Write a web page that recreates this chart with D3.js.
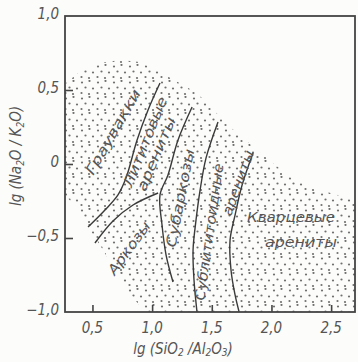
<!DOCTYPE html>
<html>
<head>
<meta charset="utf-8">
<script src="https://cdn.jsdelivr.net/npm/d3@7"></script>
<style>
  html, body { margin: 0; padding: 0; background: #fcfcfa; }
  svg { display: block; }
  .lbl { font-family: "DejaVu Sans Condensed", "DejaVu Sans", sans-serif; font-style: italic; fill: #555; }
</style>
</head>
<body>
<div id="chart"></div>
<script>
// axis ticks
var xTicks = [0.5, 1.0, 1.5, 2.0, 2.5];
var xTickLabels = ['0,5', '1,0', '1,5', '2,0', '2,5'];
var yTicks = [1.0, 0.5, 0, -0.5, -1.0];
var yTickLabels = ['1,0', '0,5', '0', '\u22120,5', '\u22121,0'];

// outline of the stippled field (lg SiO2/Al2O3, lg Na2O/K2O)
var fieldX = [0.27, 0.379, 0.563, 0.731, 0.899, 1.066, 1.376, 1.653, 1.879, 2.156, 2.407, 2.70,
              2.70, 0.941, 0.857, 0.731, 0.589, 0.48, 0.396, 0.27];
var fieldY = [0.541, 0.615, 0.682, 0.703, 0.689, 0.622, 0.480, 0.25, 0.095, -0.088, -0.176, -0.243,
              -1.0, -1.0, -0.919, -0.784, -0.581, -0.446, -0.324, -0.209];

// boundary curves between rock classes
var curve1X = [0.463, 0.605, 0.714, 0.781, 0.874, 0.966, 1.066];
var curve1Y = [-0.426, -0.311, -0.209, -0.095, 0.162, 0.365, 0.547];
var curve2X = [0.521, 0.672, 0.840, 1.050];
var curve2Y = [-0.534, -0.385, -0.277, -0.196];
var curve3X = [1.335, 1.217, 1.133, 1.066, 1.083, 1.117, 1.175];
var curve3Y = [0.385, 0.162, -0.074, -0.209, -0.412, -0.615, -0.797];
var curve4X = [1.552, 1.452, 1.402, 1.368, 1.343, 1.351, 1.376];
var curve4Y = [0.284, 0.041, -0.176, -0.378, -0.581, -0.784, -1.0];
var curve5X = [1.846, 1.754, 1.695, 1.653, 1.661, 1.695, 1.729];
var curve5Y = [0.074, -0.142, -0.345, -0.514, -0.716, -0.885, -1.0];

// field names and where they sit (data units)
var fieldNames = ['Граувакки', 'Лититовые', 'арениты', 'Аркозы', 'Субаркозы',
                  'Сублититоидные', 'арениты', 'Кварцевые', 'арениты'];
var nameX = [0.672, 0.941, 1.033, 0.806, 1.234, 1.477, 1.720, 2.164, 2.248];
var nameY = [0.216, 0.149, 0.068, -0.568, -0.230, -0.459, -0.128, -0.358, -0.527];

// layout of the names: rotation and drawn length
var nameAngle = [-60, -68, -67, -54, -79, -82, -70, 0, 0];
var nameLength = [96, 96, 79, 62, 100, 138, 68, 88, 72];

var width = 358, height = 362;
var margin = {top: 16, right: 3, bottom: 50, left: 65};

var svg = d3.select('#chart').append('svg')
    .attr('width', width)
    .attr('height', height);

var x = d3.scaleLinear().domain([0.27, 2.70]).range([margin.left, width - margin.right]);
var y = d3.scaleLinear().domain([-1, 1]).range([height - margin.bottom, margin.top]);

function zipPts(xs, ys) {
    return xs.map(function(v, i) { return [v, ys[i]]; });
}

// stipple pattern
var defs = svg.append('defs');
var pat = defs.append('pattern')
    .attr('id', 'dots')
    .attr('patternUnits', 'userSpaceOnUse')
    .attr('width', 16).attr('height', 16);
[[2, 2.5], [9.5, 1], [5.5, 7.5], [13, 8.5], [1.5, 13], [9, 14]].forEach(function(p) {
    pat.append('circle').attr('cx', p[0]).attr('cy', p[1]).attr('r', 1.1).attr('fill', '#707070');
});

var line = d3.line()
    .x(function(d) { return x(d[0]); })
    .y(function(d) { return y(d[1]); });

svg.append('path')
    .datum(zipPts(fieldX, fieldY))
    .attr('d', line.curve(d3.curveLinearClosed))
    .attr('fill', 'url(#dots)')
    .attr('stroke', 'none');

// boundary curves
var smooth = d3.line()
    .x(function(d) { return x(d[0]); })
    .y(function(d) { return y(d[1]); })
    .curve(d3.curveCatmullRom.alpha(0.5));

[[curve1X, curve1Y], [curve2X, curve2Y], [curve3X, curve3Y], [curve4X, curve4Y], [curve5X, curve5Y]]
    .forEach(function(c) {
        svg.append('path')
            .datum(zipPts(c[0], c[1]))
            .attr('d', smooth)
            .attr('fill', 'none')
            .attr('stroke', '#3a3a3a')
            .attr('stroke-width', 1.4);
    });

// field names
fieldNames.forEach(function(name, i) {
    var cx = x(nameX[i]), cy = y(nameY[i]);
    svg.append('text')
        .attr('class', 'lbl')
        .attr('transform', 'translate(' + cx + ',' + cy + ') rotate(' + nameAngle[i] + ')')
        .attr('text-anchor', 'middle')
        .attr('dy', '0.35em')
        .attr('font-size', 14)
        .attr('textLength', nameLength[i])
        .attr('lengthAdjust', 'spacingAndGlyphs')
        .text(name);
});

// frame
svg.append('rect')
    .attr('x', x.range()[0]).attr('y', y.range()[1])
    .attr('width', x.range()[1] - x.range()[0])
    .attr('height', y.range()[0] - y.range()[1])
    .attr('fill', 'none')
    .attr('stroke', '#444')
    .attr('stroke-width', 1.8);

// bottom axis: ticks point inward
var xAxis = svg.append('g')
    .attr('transform', 'translate(0,' + y.range()[0] + ')')
    .call(d3.axisTop(x).tickValues(xTicks).tickSize(7).tickFormat(''));
xAxis.select('.domain').remove();
xAxis.selectAll('line').attr('stroke', '#444').attr('stroke-width', 1.6);

svg.selectAll('.xlab')
    .data(xTicks)
    .enter().append('text')
    .attr('class', 'lbl')
    .attr('x', function(d) { return x(d); })
    .attr('y', y.range()[0] + 21)
    .attr('text-anchor', 'middle')
    .attr('font-size', 15)
    .text(function(d, i) { return xTickLabels[i]; });

// left axis: ticks point inward
var yAxis = svg.append('g')
    .attr('transform', 'translate(' + x.range()[0] + ',0)')
    .call(d3.axisRight(y).tickValues(yTicks.slice(1, 4)).tickSize(8).tickFormat(''));
yAxis.select('.domain').remove();
yAxis.selectAll('line').attr('stroke', '#444').attr('stroke-width', 1.6);

svg.selectAll('.ylab')
    .data(yTicks)
    .enter().append('text')
    .attr('class', 'lbl')
    .attr('x', x.range()[0] - 6)
    .attr('y', function(d) { return y(d); })
    .attr('dy', '0.2em')
    .attr('text-anchor', 'end')
    .attr('font-size', 15)
    .text(function(d, i) { return yTickLabels[i]; });

// axis titles
var xt = svg.append('text')
    .attr('class', 'lbl')
    .attr('x', 183)
    .attr('y', 354)
    .attr('text-anchor', 'middle')
    .attr('font-size', 15);
xt.append('tspan').text('lg (SiO');
xt.append('tspan').attr('dy', 2).attr('font-size', 10).text('2');
xt.append('tspan').attr('dy', -2).text(' /Al');
xt.append('tspan').attr('dy', 2).attr('font-size', 10).text('2');
xt.append('tspan').attr('dy', -2).text('O');
xt.append('tspan').attr('dy', 2).attr('font-size', 10).text('3');
xt.append('tspan').attr('dy', -2).text(')');

var yt = svg.append('text')
    .attr('class', 'lbl')
    .attr('transform', 'translate(21,156) rotate(-90)')
    .attr('text-anchor', 'middle')
    .attr('font-size', 15);
yt.append('tspan').text('lg (Na');
yt.append('tspan').attr('dy', 3).attr('font-size', 10).text('2');
yt.append('tspan').attr('dy', -3).text('O / K');
yt.append('tspan').attr('dy', 3).attr('font-size', 10).text('2');
yt.append('tspan').attr('dy', -3).text('O)');
</script>
</body>
</html>
